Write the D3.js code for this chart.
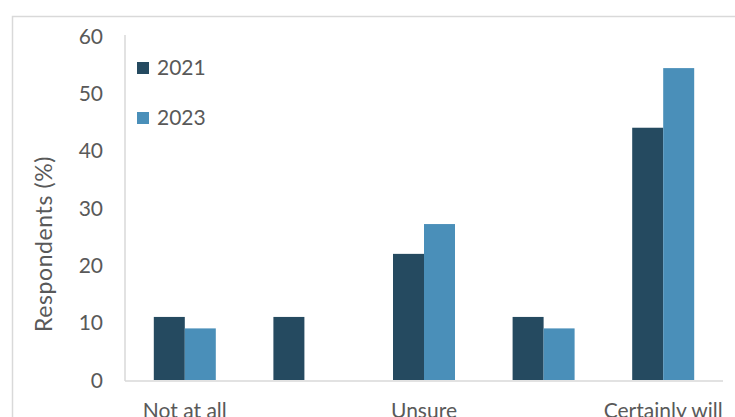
<!DOCTYPE html>
<html>
<head>
<meta charset="utf-8">
<script src="https://cdn.jsdelivr.net/npm/d3@7"></script>
<style>
  html, body { margin: 0; padding: 0; background: #fff; overflow: hidden; }
  svg { display: block; font-family: Lato, "Liberation Sans", sans-serif; }
</style>
</head>
<body>
<div id="chart"></div>
<script>
// --- data ---
const categoryLabels = ["Not at all", "", "Unsure", "", "Certainly will"];
const seriesNames = ["2021", "2023"];
const values2021 = [11, 11, 22, 11, 44];
const values2023 = [9, 0, 27.2, 9, 54.4];
const yTicks = [0, 10, 20, 30, 40, 50, 60];
const seriesColors = ["#254a60", "#4a8fb9"];

const W = 735, H = 417;
const plot = { left: 125, right: 723, top: 36, bottom: 380 };
const textColor = "#595959";
const lineColor = "#d9d9d9";

const svg = d3.select("#chart").append("svg")
  .attr("width", W)
  .attr("height", H);

// chart area border (runs off the right and bottom edge)
svg.append("rect")
  .attr("x", 12.5).attr("y", 16.5)
  .attr("width", 740).attr("height", 420)
  .attr("fill", "none")
  .attr("stroke", lineColor)
  .attr("stroke-width", 1.5);

const x0 = d3.scaleBand()
  .domain(d3.range(categoryLabels.length))
  .range([plot.left, plot.right])
  .paddingInner(0.4816)
  .paddingOuter(0.2408);

const x1 = d3.scaleBand()
  .domain(seriesNames)
  .range([0, x0.bandwidth()]);

const y = d3.scaleLinear()
  .domain([0, 60])
  .range([plot.bottom, plot.top]);

// y tick labels
svg.append("g")
  .selectAll("text")
  .data(yTicks)
  .join("text")
  .attr("x", 103)
  .attr("y", d => y(d))
  .attr("dy", "0.36em")
  .attr("text-anchor", "end")
  .attr("font-size", 21)
  .attr("fill", textColor)
  .text(d => d);

// y axis title
svg.append("text")
  .attr("transform", "translate(52,244) rotate(-90)")
  .attr("text-anchor", "middle")
  .attr("font-size", 23)
  .attr("letter-spacing", 0.6)
  .attr("fill", textColor)
  .text("Respondents (%)");

// bars
const rows = categoryLabels.map((c, i) => ({
  i,
  vals: [values2021[i], values2023[i]]
}));

const groups = svg.append("g")
  .selectAll("g")
  .data(rows)
  .join("g")
  .attr("transform", d => `translate(${x0(d.i)},0)`);

groups.selectAll("rect")
  .data(d => d.vals.map((v, k) => ({ name: seriesNames[k], v, k })))
  .join("rect")
  .attr("x", d => x1(d.name))
  .attr("y", d => y(d.v))
  .attr("width", x1.bandwidth())
  .attr("height", d => y(0) - y(d.v))
  .attr("fill", d => seriesColors[d.k]);

// axis lines
svg.append("line")
  .attr("x1", plot.left).attr("x2", plot.left)
  .attr("y1", 35).attr("y2", plot.bottom + 1)
  .attr("stroke", lineColor).attr("stroke-width", 1.5);

svg.append("line")
  .attr("x1", plot.left).attr("x2", plot.right)
  .attr("y1", plot.bottom + 1).attr("y2", plot.bottom + 1)
  .attr("stroke", lineColor).attr("stroke-width", 1.5);

// category labels (cut by the bottom edge, as in the original)
svg.append("g")
  .selectAll("text")
  .data(categoryLabels)
  .join("text")
  .attr("x", (d, i) => x0(i) + x0.bandwidth() / 2)
  .attr("y", 418)
  .attr("text-anchor", "middle")
  .attr("font-size", 21)
  .attr("fill", textColor)
  .text(d => d);

// legend
const legend = svg.append("g")
  .selectAll("g")
  .data(seriesNames)
  .join("g")
  .attr("transform", (d, i) => `translate(137,${62 + i * 50})`);

legend.append("rect")
  .attr("width", 12).attr("height", 12)
  .attr("fill", (d, i) => seriesColors[i]);

legend.append("text")
  .attr("x", 20)
  .attr("y", 13)
  .attr("font-size", 21)
  .attr("fill", textColor)
  .text(d => d);
</script>
</body>
</html>
